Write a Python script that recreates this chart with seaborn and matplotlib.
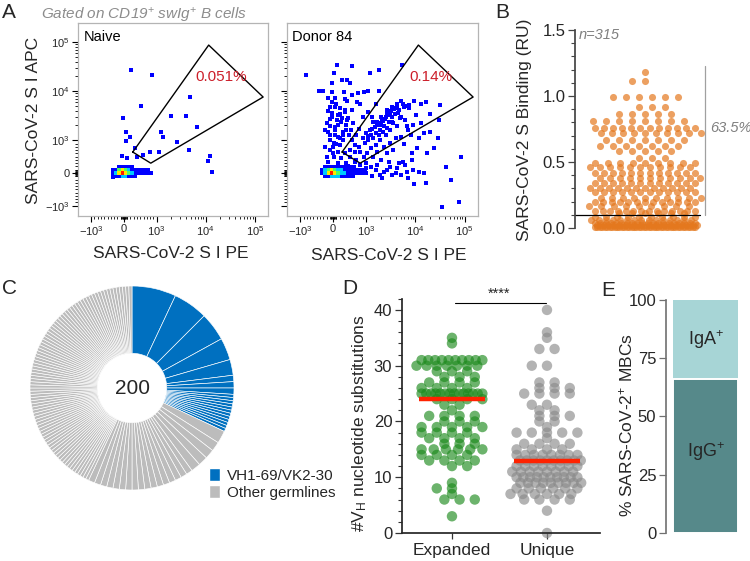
import numpy as np
import matplotlib
matplotlib.use("Agg")
import matplotlib.pyplot as plt
from matplotlib.colors import ListedColormap, BoundaryNorm
from matplotlib.patches import Patch
from matplotlib.ticker import MultipleLocator, FormatStrFormatter
import seaborn as sns

# ==========================================================
# Data
# ==========================================================

# A - flow plots: single events outside the dense core (PE, APC)
naive_pe = [210, 850, 520, -20, 70, 180, 60, -60, 90, 340, 390, 590, 800,
            1120, 1230, 1350, 2000, 2600, 3900, 4800, 4600, 6700, 12000,
            11000, 13500, -330]
naive_apc = [27000, 21400, 5000, 2900, 1450, 1150, 970, 520, 450, 750, 500,
             540, 650, 630, 1450, 1170, 3100, 940, 3100, 7600, 700, 1900,
             520, 370, 30, -110]

donor_pe = [-830, 110, 570, 10, 270, 420, 520, 1180, 1860, 5400, -40, -420,
            -310, -40, 320, 570, 750, 930, 1120, 1800, -160, 60, 350, 420,
            720, 820, 1560, -90, 60, 210, -150, -40, 360, 570, -90, 110, 270,
            420, 160, 390, -90, 60, -90, 160, 470, -240, 15, 210, 570, 670,
            820, 160, 360, 15, -150, 160,
            980, 1120, 1240, 1400, 1600, 1950, 2300, 1800, 2100, 2500, 2900,
            3100, 2700, 3400, 4000, 4300, 5000, 4600, 5900, 7400, 9300, 12900,
            16300, 32000, 5000, 6300, 3600, 4300, 6800, 3100, 2500, 1950,
            1560, 1240, 1050, 930, 1650, 2300, 3100, 4000, 5000, 8000, 11700,
            14800, 11000, 8700, 17500, 24000, 28500, 30000, 42000, 83000,
            52000, 78000, 35000, 16300, 9300, 11700, 6800, 5000, 4000, 3100,
            2300, 1950, 1560, 1240, 980, 820, 720, 610, 470, 2900, 4600, 6300,
            8700, 14800,
            1300, 1700, 2000, 2200, 2600, 3300, 3800, 4500, 1000, 1400, 700,
            800, 600, 900, 1100, 300, 200, -50, 100, -100, 50, 300, 500, 700,
            400, 1000, 1400, 2000, 2600, 3500, 6000, 7000, 9000, 10500, 13000,
            20000, 20000, -200, -250, 0, 250, 550, 1300,
            -200, -100, 0, 100, 200, 300, 400, -150, 50, 250, 450, -50, 150,
            350, 500, 650, 800, 900, 1100, 1200, 1500, 1700, 2000, 2400, 2800,
            3200, 3700, 4200, 5500, 6500, 7500, 1800, 2200, 2700, 3400, 4800,
            1000, 1300, 1700, 2100, 2600, 3300, 4200, 5500, 7000, 9000, 600,
            800, 450, 650]
donor_apc = [21400, 34000, 32000, 23000, 17000, 17000, 14500, 24000, 27000,
             34000, 14500, 10000, 10300, 9800, 9800, 8500, 9200, 9800, 10200,
             10200, 7100, 7400, 6900, 6200, 5900, 5600, 5600, 4700, 4700, 4500,
             4000, 3550, 4200, 4200, 2700, 2600, 2800, 2600, 2070, 2070, 1950,
             1650, 1290, 1180, 1290, 780, 910, 850, 1000, 850, 650, 650, 600,
             500, 350, 300,
             910, 1000, 1290, 1100, 1380, 1650, 1950, 2200, 2600, 3000, 2400,
             3550, 4200, 4800, 4500, 5600, 6200, 4200, 4800, 5200, 6200, 5600,
             5900, 5200, 3000, 2600, 2200, 1950, 1950, 1650, 1290, 1000, 850,
             750, 600, 500, 650, 800, 910, 1100, 1180, 1290, 1100, 1380, 750,
             600, 600, 750, 1100, 2600, 190, 480, -210, -880, -1070, -300,
             -330, 40, 40, -60, -10, 190, 40, -60, 90, 190, 90, 240, -10, 150,
             90, 350, 300, 240, 400, -10,
             1700, 2000, 3000, 2500, 3600, 3000, 3500, 3600, 1400, 2400, 1300,
             1700, 2200, 3000, 3800, 1500, 3500, 6000, 5500, 1000, 1300, 1000,
             700, 400, 300, 300, 500, 400, 600, 700, 900, 1600, 2000, 3200,
             2300, 3500, 1500, 2300, 1600, 600, 450, 1600, 3000,
             500, 700, 800, 900, 1100, 1300, 1600, 1500, 1900, 2400, 2900,
             3000, 3300, 3800, 500, 650, 800, 1100, 1200, 1600, 1900, 2400,
             2000, 2700, 3300, 4000, 4300, 5000, 5500, 5000, 4500, 1300, 1500,
             1800, 2400, 2800, 150, -100, 250, -150, 100, -50, 150, 350, -150,
             100, -100, 0, 200, 350]

# dense core, binned density level (0 = no events, 5 = highest)
core_apc_edges = [-150, -50, 50, 150, 250]
naive_core_pe_edges = [-400, -300, -200, -100, 0, 100, 200, 300, 400, 500,
                       600, 700, 800, 900]
naive_core = [[0, 1, 1, 2, 2, 1, 1, 1, 0, 0, 0, 0, 0],
              [1, 2, 4, 5, 4, 3, 2, 1, 1, 1, 1, 1, 1],
              [1, 1, 3, 4, 3, 2, 1, 1, 1, 1, 1, 1, 0],
              [0, 0, 1, 1, 1, 1, 1, 0, 0, 0, 0, 0, 0]]
donor_core_pe_edges = [-400, -300, -200, -100, 0, 100, 200, 300, 400, 500,
                       600, 700, 800, 900, 1000, 1100]
donor_core = [[0, 1, 1, 2, 2, 2, 1, 1, 1, 1, 0, 0, 0, 0, 0],
              [1, 2, 4, 5, 4, 3, 2, 2, 1, 1, 1, 1, 1, 1, 1],
              [1, 2, 3, 4, 3, 2, 2, 1, 1, 1, 1, 1, 1, 1, 0],
              [0, 1, 1, 1, 1, 1, 1, 1, 1, 1, 1, 0, 0, 0, 0]]

gate_pe = [270, 11500, 148000, 820]
gate_apc = [640, 87000, 7600, 300]
flow_names = ["Naive", "Donor 84"]
gate_freq = ["0.051%", "0.14%"]

# B - SARS-CoV-2 S binding (RU): value levels and number of antibodies
b_levels = [1.18, 1.11, 0.99, 0.92, 0.86, 0.81, 0.76, 0.72, 0.67, 0.62, 0.58,
            0.53, 0.49, 0.46, 0.42, 0.38, 0.34, 0.30, 0.27, 0.23, 0.20, 0.17,
            0.13, 0.11, 0.08, 0.06, 0.04, 0.02, 0.005]
b_counts = [1, 2, 6, 3, 5, 8, 12, 10, 7, 7, 5, 3, 9, 11, 12, 11, 12, 12, 12,
            10, 13, 9, 14, 6, 10, 15, 20, 28, 42]
b_cutoff = 0.1
b_n = "n=315"
b_pct = "63.5%"

# C - clonal families (clone sizes), 200 sequences
c_blue = [14, 11, 9, 7, 5, 2, 2, 2, 1, 1, 1, 1, 1, 1, 1, 1, 1, 1, 1, 1]
c_gray = [4, 3, 3, 3, 3, 2, 2, 2, 2, 2, 2, 2, 2, 2, 2, 2, 2, 2, 2, 2, 2, 2,
          1, 1, 1, 1, 1, 1, 1, 1, 1, 1, 1, 1, 1, 1, 1, 1, 1, 1, 1, 1,
          1, 1, 1, 1, 1, 1, 1, 1, 1, 1, 1, 1, 1, 1, 1, 1, 1, 1, 1, 1,
          1, 1, 1, 1, 1, 1, 1, 1, 1, 1, 1, 1, 1, 1, 1, 1, 1, 1, 1, 1,
          1, 1, 1, 1, 1, 1, 1, 1, 1, 1, 1, 1, 1, 1, 1, 1, 1, 1, 1, 1,
          1, 1, 1, 1, 1, 1]
c_labels = ["VH1-69/VK2-30", "Other germlines"]
c_total = "200"

# D - VH nucleotide substitutions (value, number of antibodies)
exp_levels = [3, 6, 7, 8, 9, 12, 13, 14, 15, 16, 17, 18, 19, 20, 21, 22, 23,
              24, 25, 26, 27, 28, 29, 30, 31, 34, 35]
exp_counts = [1, 3, 1, 2, 1, 2, 4, 4, 6, 3, 4, 4, 5, 3, 4, 1, 2,
              4, 14, 4, 4, 3, 3, 7, 10, 1, 1]
uni_levels = [0, 4, 6, 7, 8, 9, 10, 11, 12, 13, 14, 15, 16, 17, 18, 19, 20,
              21, 22, 23, 25, 26, 27, 30, 33, 35, 36, 40]
uni_counts = [1, 1, 4, 6, 6, 9, 10, 8, 8, 10, 8, 4, 4, 1, 5, 1, 2,
              3, 2, 2, 4, 3, 2, 2, 2, 1, 1, 1]
d_groups = ["Expanded", "Unique"]

# E - isotype of SARS-CoV-2+ MBCs (%)
e_iso = ["IgG$^{+}$", "IgA$^{+}$"]
e_pct = [66, 34]

# ==========================================================
# Style
# ==========================================================

sns.set_theme(style="ticks")
plt.rcParams["font.family"] = ["Liberation Sans", "DejaVu Sans"]
plt.rcParams["mathtext.fontset"] = "custom"
plt.rcParams["mathtext.rm"] = "Liberation Sans"
plt.rcParams["mathtext.it"] = "Liberation Sans:italic"
plt.rcParams["mathtext.bf"] = "Liberation Sans:bold"
plt.rcParams["axes.unicode_minus"] = False

W, H = 750, 561
fig = plt.figure(figsize=(W / 100, H / 100), dpi=100)


def px_axes(x0, y0, x1, y1):
    return fig.add_axes([x0 / W, 1 - y1 / H, (x1 - x0) / W, (y1 - y0) / H])


def px_text(x, y, s, **kw):
    return fig.text(x / W, 1 - y / H, s, **kw)


def row_layout(values, step, half):
    # spread equal values side by side, squeezing rows that are too long,
    # alternate rows nudged by half a gap so that columns do not line up
    values = np.asarray(values, dtype=float)
    offs = np.zeros(len(values))
    for k, v in enumerate(np.unique(values)):
        idx = np.flatnonzero(values == v)
        n = len(idx)
        if n > 1:
            gap = min(step, 2 * half / (n - 1))
            shift = {1: gap / 2, 3: -gap / 2}.get(k % 4, 0)
            offs[idx] = (np.arange(n) - (n - 1) / 2) * gap + shift
    return offs


# ==========================================================
# A - flow cytometry
# ==========================================================

core_cmap = ListedColormap(["#0000ff", "#00c8ff", "#50ff60", "#ffe600", "#ff1a00"])
core_norm = BoundaryNorm([0.5, 1.5, 2.5, 3.5, 4.5, 5.5], 5)

major = [-1000, 0, 1000, 10000, 100000]
major_lab = ["$-10^3$", "0", "$10^3$", "$10^4$", "$10^5$"]
minor = ([-s for s in (20, 40, 60, 80, 100, 200, 300, 400, 500, 600, 700, 800, 900)]
         + [20, 40, 60, 80, 100, 200, 300, 400, 500, 600, 700, 800, 900]
         + [k * 10 ** d for d in (3, 4) for k in range(2, 10)])

flow_sets = [(naive_pe, naive_apc, naive_core_pe_edges, naive_core),
             (donor_pe, donor_apc, donor_core_pe_edges, donor_core)]
flow_boxes = [(78, 23, 268, 216), (287, 23, 478, 216)]

for i, (xs, ys, xe, lv) in enumerate(flow_sets):
    ax = px_axes(*flow_boxes[i])
    sns.scatterplot(x=xs, y=ys, ax=ax, marker="s", s=9, color="#0000ff",
                    linewidth=0, zorder=2)
    ax.pcolormesh(xe, core_apc_edges, np.ma.masked_equal(np.array(lv), 0),
                  cmap=core_cmap, norm=core_norm, shading="flat", zorder=3)
    ax.plot(gate_pe + gate_pe[:1], gate_apc + gate_apc[:1], color="black",
            lw=1.0, zorder=4)
    ax.set_xscale("symlog", linthresh=1000, linscale=0.6)
    ax.set_yscale("symlog", linthresh=1000, linscale=0.6)
    ax.set_xlim(-1860, 186000)
    ax.set_ylim(-1620, 245000)
    ax.set_xticks(major, major_lab)
    ax.set_yticks(major, major_lab if i == 0 else [""] * 5)
    ax.set_xticks(minor, minor=True)
    ax.set_yticks(minor, minor=True)
    ax.tick_params(which="major", length=4, width=0.8, labelsize=8, pad=2,
                   color="black")
    ax.tick_params(which="minor", length=2.2, width=0.6, color="black")
    for sp in ax.spines.values():
        sp.set_color("#b4b4b4")
        sp.set_linewidth(0.9)
    ax.text(0.028, 0.965, flow_names[i], transform=ax.transAxes, ha="left",
            va="top", fontsize=10.5, color="black")
    ax.text(20500, 19500, gate_freq[i], ha="center", va="center",
            fontsize=11, color="#cc1f2a", zorder=5)

px_text(171, 254, "SARS-CoV-2 S I PE", ha="center", va="center", fontsize=12.5)
px_text(389, 255, "SARS-CoV-2 S I PE", ha="center", va="center", fontsize=12.5)
px_text(34, 120, "SARS-CoV-2 S I APC", ha="center", va="center",
        rotation=90, fontsize=12.5)
px_text(41, 15, "Gated on CD19$^{+}$ swIg$^{+}$ B cells", ha="left",
        va="center", fontsize=11, style="italic", color="#8c8c8c")

# ==========================================================
# B - binding swarm
# ==========================================================

axb = px_axes(575, 23, 750, 235)
b_vals = np.repeat(b_levels, b_counts)
b_x = row_layout(b_vals, 0.13, 0.5)
sns.scatterplot(x=b_x, y=b_vals, ax=axb, s=26, color="#e4781e", alpha=0.7,
                linewidth=0, clip_on=False)
axb.plot([-0.7, 0.55], [b_cutoff, b_cutoff], color="black", lw=0.9,
         clip_on=False)
axb.plot([0.6, 0.6], [b_cutoff, 1.23], color="#a0a0a0", lw=0.9)
axb.text(0.65, 0.755, b_pct, ha="left", va="center", fontsize=10.5,
         style="italic", color="#808080")
axb.text(-0.66, 1.46, b_n, ha="left", va="center", fontsize=10.5,
         style="italic", color="#808080")
axb.set_xlim(-0.7, 1.05)
axb.set_ylim(-0.053, 1.553)
axb.set_xticks([])
axb.yaxis.set_major_locator(MultipleLocator(0.5))
axb.yaxis.set_minor_locator(MultipleLocator(0.1))
axb.yaxis.set_major_formatter(FormatStrFormatter("%.1f"))
axb.tick_params(axis="y", which="major", length=5, width=0.9, labelsize=12,
                pad=2, color="#444444")
axb.tick_params(axis="y", which="minor", length=3, width=0.8, color="#444444")
for side in ("top", "right", "bottom"):
    axb.spines[side].set_visible(False)
axb.spines["left"].set_bounds(0, 1.5)
axb.spines["left"].set_color("#444444")
px_text(525, 130, "SARS-CoV-2 S Binding (RU)", ha="center", va="center",
        rotation=90, fontsize=12.5)

# ==========================================================
# C - clonal donut
# ==========================================================

axc = px_axes(30, 286, 234, 490)
sizes = c_blue + c_gray
colors = ["#0070c0"] * len(c_blue) + ["#bcbcbc"] * len(c_gray)
axc.pie(sizes, colors=colors, startangle=90, counterclock=False, radius=1,
        wedgeprops=dict(width=0.66, edgecolor="white", linewidth=0.45))
axc.set_xlim(-1, 1)
axc.set_ylim(-1, 1)
axc.text(0, 0, c_total, ha="center", va="center", fontsize=15)
fig.legend(handles=[Patch(facecolor="#0070c0", label=c_labels[0]),
                    Patch(facecolor="#bcbcbc", label=c_labels[1])],
           loc="center left", bbox_to_anchor=(209 / W, 1 - 484 / H),
           frameon=False, fontsize=11, handlelength=0.7, handleheight=0.9,
           handletextpad=0.45, labelspacing=0.15, borderpad=0,
           borderaxespad=0)

# ==========================================================
# D - substitutions
# ==========================================================

axd = px_axes(402, 296, 600, 533)
exp_vals = np.repeat(exp_levels, exp_counts)
uni_vals = np.repeat(uni_levels, uni_counts)
d_y = np.concatenate([exp_vals, uni_vals])
d_x = np.concatenate([row_layout(exp_vals, 0.16, 0.32),
                      1 + row_layout(uni_vals, 0.16, 0.32)])
d_g = [d_groups[0]] * len(exp_vals) + [d_groups[1]] * len(uni_vals)
sns.scatterplot(x=d_x, y=d_y, hue=d_g, ax=axd, s=56, alpha=0.65,
                palette={d_groups[0]: "#1d8a1d", d_groups[1]: "#8a8a8a"},
                linewidth=0, legend=False, clip_on=False)
for i, vals in enumerate([exp_vals, uni_vals]):
    med = np.median(vals)
    axd.plot([i - 0.35, i + 0.35], [med, med], color="#ff2200", lw=3.2,
             solid_capstyle="butt", zorder=5)
axd.plot([0.03, 0.99], [41.2, 41.2], color="black", lw=0.8, clip_on=False)
axd.text(0.5, 41.6, "****", ha="center", va="bottom", fontsize=10.5)
axd.set_xlim(-0.526, 1.558)
axd.set_ylim(0, 42.5)
axd.set_xticks([0, 1], d_groups)
axd.yaxis.set_major_locator(MultipleLocator(10))
axd.yaxis.set_minor_locator(MultipleLocator(2))
axd.tick_params(axis="y", which="major", length=5, width=0.9, labelsize=12,
                pad=2, color="#333333")
axd.tick_params(axis="y", which="minor", length=3, width=0.8, color="#333333")
axd.tick_params(axis="x", length=4, width=0.9, labelsize=12.5, pad=3,
                color="#333333")
for side in ("top", "right"):
    axd.spines[side].set_visible(False)
axd.spines["left"].set_bounds(0, 42)
px_text(360, 423, "#V$_\\mathregular{H}$ nucleotide substitutions",
        ha="center", va="center", rotation=90, fontsize=12.5)

# ==========================================================
# E - isotype bar
# ==========================================================

axe = px_axes(666, 296, 745, 533)
sns.barplot(x=["MBC"], y=[e_pct[0] + e_pct[1]], color="#a7d5d6", width=1.0,
            saturation=1, edgecolor="white", linewidth=0, ax=axe)
sns.barplot(x=["MBC"], y=[e_pct[0]], color="#56898a", width=1.0,
            saturation=1, edgecolor="white", linewidth=1.4, ax=axe)
axe.text(0, e_pct[0] + e_pct[1] / 2, e_iso[1], ha="center", va="center",
         fontsize=13)
axe.text(0, e_pct[0] / 2 + 2, e_iso[0], ha="center", va="center",
         fontsize=13)
axe.set_xlim(-0.6, 0.6)
axe.set_ylim(0, 101.7)
axe.set_xticks([])
axe.set_xlabel("")
axe.set_yticks([0, 25, 50, 75, 100])
axe.tick_params(axis="y", length=5, width=0.9, labelsize=12, pad=2,
                color="#707070")
for side in ("top", "right", "bottom"):
    axe.spines[side].set_visible(False)
axe.spines["left"].set_bounds(0, 100)
axe.spines["left"].set_color("#707070")
axe.spines["left"].set_linewidth(1.2)
px_text(626, 425, "% SARS-CoV-2$^{+}$ MBCs", ha="center", va="center",
        rotation=90, fontsize=12.5)

# ==========================================================
# Panel letters
# ==========================================================

for letter, x, y in [("A", 2, 13), ("B", 495, 12), ("C", 2, 289),
                     ("D", 342, 289), ("E", 601, 290)]:
    px_text(x, y, letter, ha="left", va="center", fontsize=15)

fig.savefig("out.png", dpi=100)
